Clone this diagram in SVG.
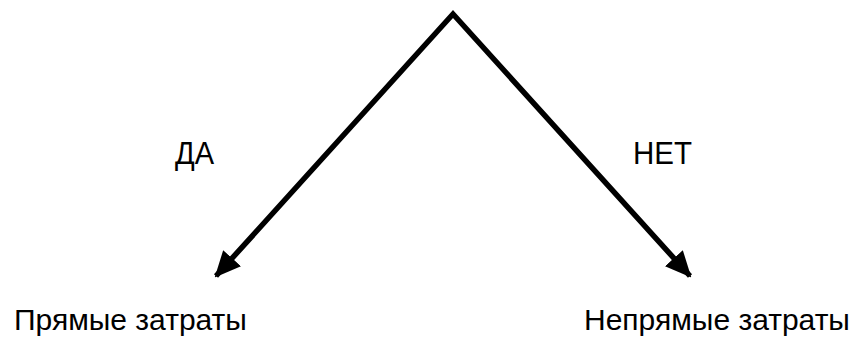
<svg xmlns="http://www.w3.org/2000/svg" width="857" height="341" viewBox="0 0 857 341">
<style>
.lbl{font-family:"Liberation Sans",Arial,sans-serif;fill:#000}
.edge{font-size:32px}
.node{font-size:30px}
.conn{fill:none;stroke:#000;stroke-width:5.5;stroke-linejoin:miter;stroke-miterlimit:10}
</style>
<defs>
<marker id="ah" viewBox="0 0 26 24" refX="24" refY="12" markerWidth="26" markerHeight="24" markerUnits="userSpaceOnUse" orient="auto-start-reverse">
<path d="M0,0 L26,12 L0,24 Z" fill="#000"/>
</marker>
</defs>
<rect width="857" height="341" fill="#fff"/>
<g id="connectors">
<path class="conn" d="M216,276 L453,14 L690,276" marker-start="url(#ah)" marker-end="url(#ah)"/>
</g>
<g id="label-da"><text class="lbl edge" x="175" y="164" textLength="39" lengthAdjust="spacingAndGlyphs">ДА</text></g>
<g id="label-net"><text class="lbl edge" x="633" y="164" textLength="59" lengthAdjust="spacingAndGlyphs">НЕТ</text></g>
<g id="node-direct"><text class="lbl node" x="14" y="330">Прямые затраты</text></g>
<g id="node-indirect"><text class="lbl node" x="584" y="330">Непрямые затраты</text></g>
</svg>
